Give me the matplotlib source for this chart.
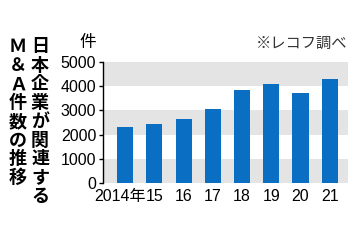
import matplotlib
matplotlib.use('Agg')
import matplotlib.pyplot as plt
from matplotlib.transforms import ScaledTranslation

years = ['2014年', '15', '16', '17', '18', '19', '20', '21']
counts = [2300, 2430, 2650, 3050, 3850, 4090, 3730, 4280]
yticks = [0, 1000, 2000, 3000, 4000, 5000]
title_r = '日本企業が関連する'
title_l = 'Ｍ＆Ａ件数の推移'

plt.rcParams['font.family'] = ['Liberation Sans', 'Noto Sans CJK JP', 'DejaVu Sans']

fig = plt.figure(figsize=(3.6, 2.4), dpi=100)
ax = fig.add_axes([0.285, 0.2375, 0.682, 0.5045])

# alternating grey bands
for i in range(0, 5, 2):
    ax.axhspan(i * 1000, (i + 1) * 1000, color='#e4e4e4', lw=0, zorder=0)

ax.bar(range(len(counts)), counts, width=0.55, color='#0a6fc2', zorder=2)
ax.set_xlim(-0.77, 7.63)
ax.set_ylim(0, 5000)
ax.set_yticks(yticks)
ax.set_yticklabels([str(v) for v in yticks], fontsize=11.5)
ax.set_xticks(range(len(years)))
ax.set_xticklabels(years, fontsize=11.5)
for s in ['top', 'right', 'bottom']:
    ax.spines[s].set_visible(False)
ax.spines['left'].set_linewidth(1)
ax.tick_params(axis='y', length=3, width=1, pad=1.5)
ax.tick_params(axis='x', length=0, pad=4)

# first label sits a bit left, as in the original
lab0 = ax.get_xticklabels()[0]
lab0.set_transform(lab0.get_transform() + ScaledTranslation(-5 / 100, 0, fig.dpi_scale_trans))

fig.text(88 / 360, 1 - 43 / 240, '件', fontsize=12, family='Noto Sans CJK JP',
         ha='center', va='center')
fig.text(347 / 360, 1 - 43 / 240, '※レコフ調べ', fontsize=11, family='Noto Sans CJK JP',
         ha='right', va='center', color='#333333')

fig.text(40 / 360, 1 - 37 / 240, '\n'.join(title_r), fontsize=13, family='Noto Sans CJK JP',
         weight='bold', ha='center', va='top', linespacing=0.98)
fig.text(18 / 360, 1 - 37 / 240, '\n'.join(title_l), fontsize=13, family='Noto Sans CJK JP',
         weight='bold', ha='center', va='top', linespacing=0.98)

fig.savefig('out.png', dpi=100)
